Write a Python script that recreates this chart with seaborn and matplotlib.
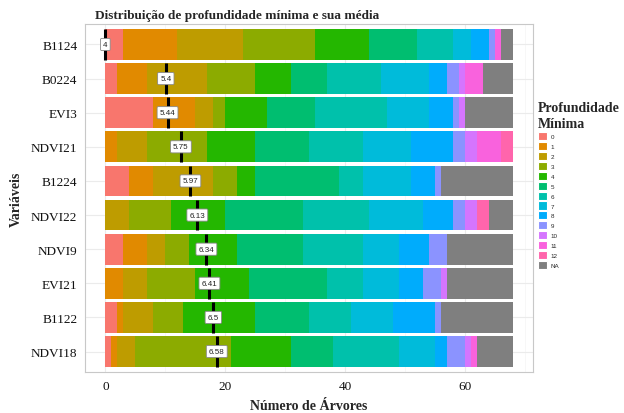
import numpy as np
import pandas as pd
import seaborn as sns
import matplotlib.pyplot as plt
from matplotlib.patches import Patch

# Variables, top to bottom
variables = ["B1124", "B0224", "EVI3", "NDVI21", "B1224",
             "NDVI22", "NDVI9", "EVI21", "B1122", "NDVI18"]

# Minimal-depth levels
depth_levels = ["0", "1", "2", "3", "4", "5", "6", "7", "8", "9", "10", "11", "12", "NA"]

# Number of trees per minimal depth (0..12, NA) for each variable
b1124 = [3, 9, 11, 12, 9, 8, 6, 3, 3, 1, 0, 1, 0, 2]
b0224 = [2, 5, 10, 8, 6, 6, 9, 8, 3, 2, 1, 3, 0, 5]
evi3 = [8, 7, 3, 2, 7, 8, 12, 7, 4, 1, 1, 0, 0, 8]
ndvi21 = [0, 2, 5, 10, 8, 9, 9, 8, 7, 2, 2, 4, 2, 0]
b1224 = [4, 4, 10, 4, 3, 14, 4, 8, 4, 1, 0, 0, 0, 12]
ndvi22 = [0, 0, 4, 7, 9, 13, 11, 9, 5, 2, 2, 0, 2, 4]
ndvi9 = [3, 4, 3, 4, 8, 11, 10, 6, 5, 3, 0, 0, 0, 11]
evi21 = [0, 3, 4, 8, 9, 13, 6, 6, 4, 3, 1, 0, 0, 11]
b1122 = [2, 1, 5, 5, 12, 9, 7, 7, 7, 1, 0, 0, 0, 12]
ndvi18 = [1, 1, 3, 16, 10, 7, 11, 6, 2, 3, 1, 1, 0, 6]

# Mean minimal depth of each variable
mean_depth = [4.00, 5.40, 5.44, 5.75, 5.97, 6.13, 6.34, 6.41, 6.50, 6.58]

count_rows = [b1124, b0224, evi3, ndvi21, b1224, ndvi22, ndvi9, evi21, b1122, ndvi18]
counts = pd.DataFrame(count_rows, index=variables, columns=depth_levels)

# Cumulative totals for stacking
cum = counts.cumsum(axis=1)

palette = ["#F8766D", "#E18A00", "#BE9C00", "#8CAB00", "#24B700", "#00BE70",
           "#00C1AB", "#00BBDA", "#00ACFC", "#8B93FF", "#D575FE", "#F962DD",
           "#FF65AC", "#7F7F7F"]

sns.set_theme(style="white")
plt.rcParams["font.family"] = ["Liberation Serif", "DejaVu Serif"]

fig = plt.figure(figsize=(6.24, 4.14), dpi=100)
ax = fig.add_axes([85 / 624, 41 / 414, 448 / 624, 348 / 414])

# Stacked bars: draw cumulative totals from the last level down to the first
for lvl, col in zip(depth_levels[::-1], palette[::-1]):
    df = pd.DataFrame({"variable": variables, "total": cum[lvl].values})
    sns.barplot(data=df, x="total", y="variable", order=variables,
                color=col, width=0.9, saturation=1, ax=ax, zorder=2,
                edgecolor="none", linewidth=0)

# Mean minimal depth markers, rescaled to the count axis
md = np.array(mean_depth)
label_pos = (md - md.min()) / (md.max() - md.min()) * 18.6
ypos = np.arange(len(variables))
ax.vlines(label_pos, ypos - 0.45, ypos + 0.45, color="black", lw=2.2, zorder=4)
for x, y, m in zip(label_pos, ypos, mean_depth):
    txt = f"{m:g}"
    ax.text(x, y, txt, ha="center", va="center", fontsize=5.8,
            family="Liberation Sans", color="#222222", zorder=5,
            bbox=dict(boxstyle="round,pad=0.32,rounding_size=0.15",
                      fc="white", ec="#888888", lw=0.6))

ax.set_xlim(-3.4, 71.4)
ax.set_ylim(len(variables) - 0.4, -0.6)
ax.set_xticks([0, 20, 40, 60])
ax.set_xticks([10, 30, 50, 70], minor=True)
ax.grid(True, which="major", color="#EBEBEB", lw=0.8, zorder=0)
ax.grid(True, which="minor", axis="x", color="#F4F4F4", lw=0.5, zorder=0)
ax.set_axisbelow(True)
for s in ax.spines.values():
    s.set_color("#C8C8C8")
    s.set_linewidth(0.8)
ax.tick_params(axis="both", which="major", length=2.5, width=0.6,
               color="#999999", labelsize=9.5, labelcolor="#111111", pad=3)
ax.tick_params(axis="x", which="minor", length=0)

ax.set_xlabel("Número de Árvores", fontsize=10, fontweight="bold", labelpad=5)
ax.set_ylabel("Variáveis", fontsize=10, fontweight="bold", labelpad=6)
fig.text(95 / 624, 1 - 16 / 414, "Distribuição de profundidade mínima e sua média",
         fontsize=9.5, fontweight="bold", ha="left", va="center")

handles = [Patch(facecolor=c, edgecolor="white", lw=0.8) for c in palette]
leg = fig.legend(handles, depth_levels, loc="upper left",
                 bbox_to_anchor=(537 / 624, 1 - 101 / 414), frameon=False,
                 title="Profundidade\nMínima", handlelength=1.35,
                 handleheight=1.6, labelspacing=0.3, handletextpad=0.6,
                 borderaxespad=0, borderpad=0.2,
                 prop={"family": "Liberation Sans", "size": 4.5})
leg.get_title().set_fontweight("bold")
leg.get_title().set_fontsize(10)
leg.get_title().set_linespacing(1.3)
leg._legend_box.align = "left"

fig.savefig("out.png", dpi=100)
